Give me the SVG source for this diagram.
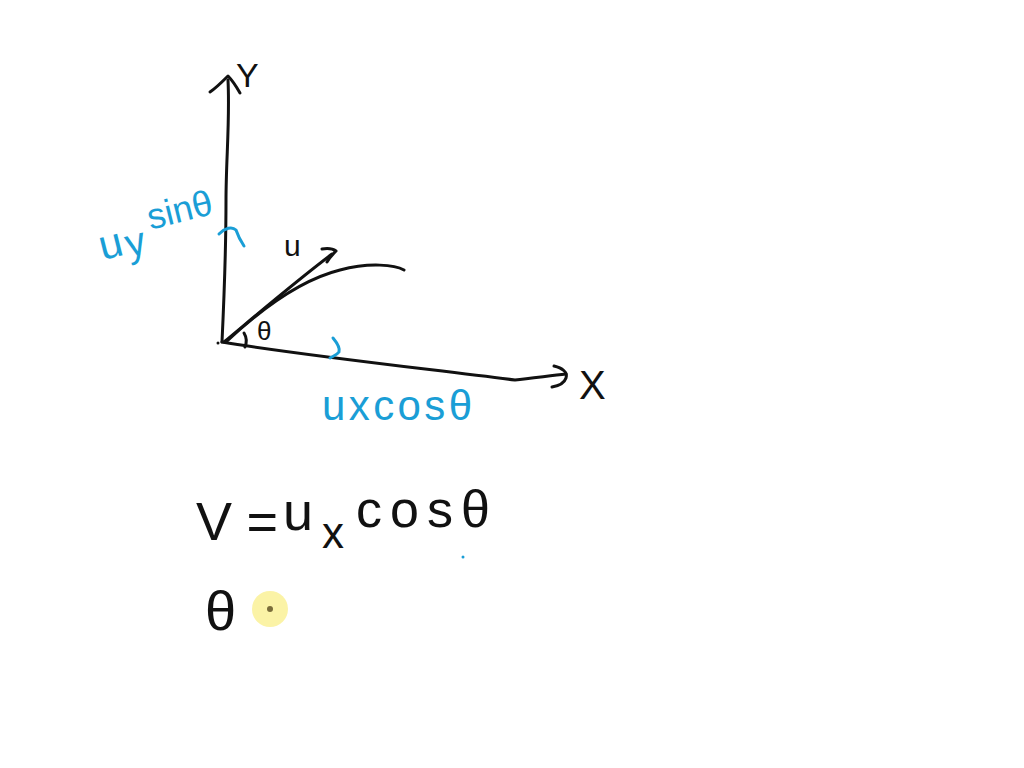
<svg xmlns="http://www.w3.org/2000/svg" width="1024" height="768" viewBox="0 0 1024 768">
<style>
.ink{fill:none;stroke:#111;stroke-width:3;stroke-linecap:round;stroke-linejoin:round}
.blue{fill:none;stroke:#1a9ed6;stroke-width:3;stroke-linecap:round;stroke-linejoin:round}
.tk{font-family:"Liberation Sans","DejaVu Sans",sans-serif;fill:#111}
.tb{font-family:"Liberation Sans","DejaVu Sans",sans-serif;fill:#1a9ed6}
</style>
<rect width="1024" height="768" fill="#fff"/>
<g id="axes">
<path class="ink" d="M222,342 C224,300 226,250 226,200 C226,160 230,120 228,80"/>
<path class="ink" d="M210,92 C216,88 222,82 228,76 C232,80 236,86 240,93"/>
<path class="ink" d="M222,342 C300,355 420,368 515,380 C530,378 550,376 566,374"/>
<path class="ink" d="M554,366 C562,368 568,372 566,378 C564,384 558,386 552,387"/>
<circle cx="218" cy="343" r="1.5" fill="#111"/>
</g>
<g id="vector-u">
<path class="ink" d="M224,342 C260,312 295,282 332,254"/>
<path class="ink" d="M322,249 C328,248 332,248 336,251 C333,254 330,257 327,262"/>
</g>
<g id="trajectory">
<path class="ink" d="M226,342 C260,310 300,280 340,270 C370,262 395,265 404,270"/>
<path class="ink" d="M244,333 C247,338 247,342 245,347"/>
</g>
<g id="marks">
<path class="blue" d="M219,234 C225,228 232,226 236,230 C238,236 240,240 244,246"/>
<path class="blue" d="M333,338 C338,344 340,349 339,352 C337,355 333,356 330,358"/>
<circle cx="463" cy="557" r="1.5" fill="#1a9ed6"/>
</g>
<g id="labels">
<text class="tk" x="236" y="87" font-size="34">Y</text>
<text class="tk" x="284" y="256" font-size="30">u</text>
<text class="tk" x="257" y="340" font-size="26">θ</text>
<text class="tk" x="579" y="399" font-size="40">X</text>
<g transform="rotate(-14 103 258)">
<text class="tb" x="102" y="260" font-size="42">u</text>
<text class="tb" x="128" y="264" font-size="40">y</text>
<text class="tb" x="156" y="242" font-size="36" textLength="66" lengthAdjust="spacingAndGlyphs">sinθ</text>
</g>
<text class="tb" x="322" y="420" font-size="42" textLength="150" lengthAdjust="spacing">uxcosθ</text>
</g>
<g id="equation">
<text class="tk" x="196" y="540" font-size="54" textLength="82" lengthAdjust="spacing">V=</text>
<text class="tk" x="283" y="530" font-size="54">u</text>
<text class="tk" x="322" y="548" font-size="44">x</text>
<text class="tk" x="356" y="527" font-size="52" textLength="134" lengthAdjust="spacing">cosθ</text>
<text class="tk" x="205" y="630" font-size="56">θ</text>
<circle cx="270" cy="609" r="18" fill="#fbf3a6"/>
<circle cx="270" cy="609" r="3" fill="#7a6d3a"/>
</g>
</svg>
